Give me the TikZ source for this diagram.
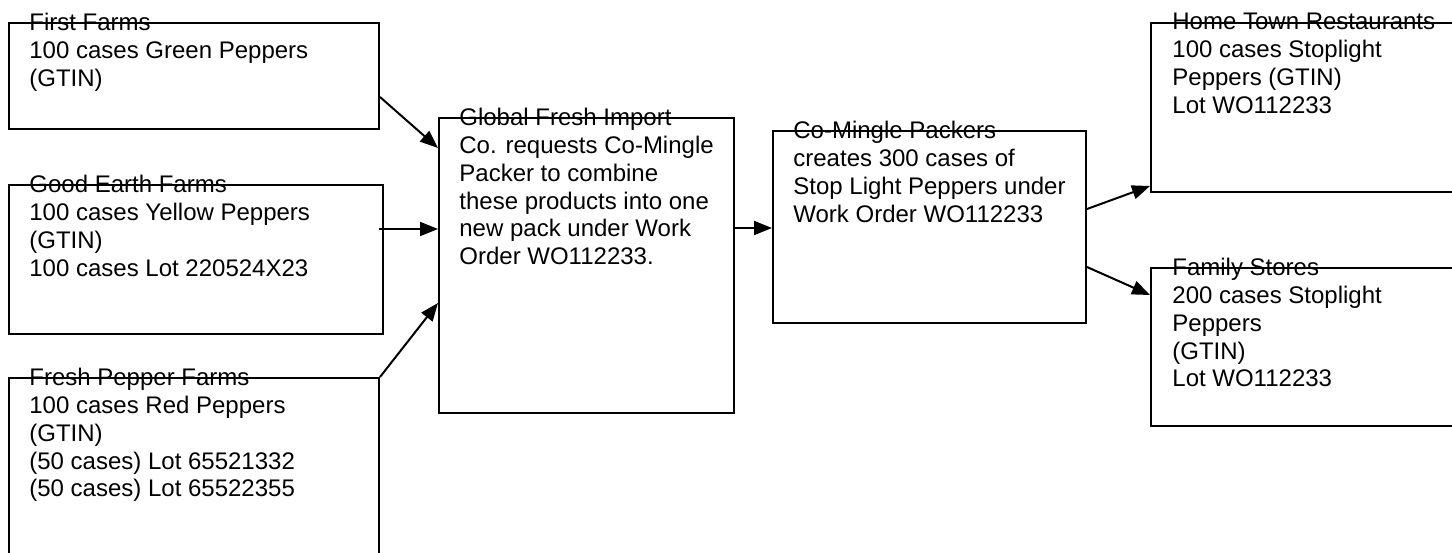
\documentclass[tikz,border=0pt]{standalone}
\usepackage{fontspec}
\setmainfont{Liberation Sans}
\usepackage{tikz}
\usetikzlibrary{arrows.meta,positioning,calc}

\begin{document}
\begin{tikzpicture}[x=0.5pt,y=-0.5pt,
  box/.style={draw,line width=1pt,rectangle,inner sep=0pt,anchor=north west},
  txt/.style={anchor=north west,inner sep=0pt,align=left,font=\fontsize{12pt}{13.9pt}\selectfont},
  arr/.style={line width=1pt,-{Triangle[length=9pt,width=7pt]}}]
  \useasboundingbox (0,0) rectangle (1452,552);
  % growers
  \node[box,minimum width=185pt,minimum height=53pt] (first) at (8,22) {};
  \node[txt] (firsttxt) at ([xshift=10.5pt,yshift=4.5pt]first.north west)
  {First Farms\\100 cases Green Peppers\\(GTIN)};
  \node[box,minimum width=187pt,minimum height=74.5pt] (goodearth) at (8,184) {};
  \node[txt] (goodearthtxt) at ([xshift=10.5pt,yshift=4.5pt]goodearth.north west)
  {Good Earth Farms\\100 cases Yellow Peppers\\(GTIN)\\100 cases Lot 220524X23};
  \node[box,minimum width=185pt,minimum height=95pt] (fresh) at (8,377) {};
  \node[txt] (freshtxt) at ([xshift=10.5pt,yshift=4.5pt]fresh.north west)
  {Fresh Pepper Farms\\100 cases Red Peppers\\(GTIN)\\(50 cases) Lot 65521332\\(50 cases) Lot 65522355};
  % importer and packer
  \node[box,minimum width=147.5pt,minimum height=147.5pt] (global) at (438,117) {};
  \node[txt] (globaltxt) at ([xshift=10.5pt,yshift=4.5pt]global.north west)
  {Global Fresh Import\\Co. requests Co-Mingle\\Packer to combine\\these products into one\\new pack under Work\\Order WO112233.};
  \node[box,minimum width=156.5pt,minimum height=96pt] (comingle) at (772,130) {};
  \node[txt] (comingletxt) at ([xshift=10.5pt,yshift=4.5pt]comingle.north west)
  {Co-Mingle Packers\\creates 300 cases of\\Stop Light Peppers under\\Work Order WO112233};
  % buyers
  \node[box,minimum width=160pt,minimum height=84.5pt] (hometown) at (1150,22) {};
  \node[txt] (hometowntxt) at ([xshift=11pt,yshift=4.5pt]hometown.north west)
  {Home Town Restaurants\\100 cases Stoplight\\Peppers (GTIN)\\Lot WO112233};
  \node[box,minimum width=160pt,minimum height=79pt] (family) at (1150,267) {};
  \node[txt] (familytxt) at ([xshift=11pt,yshift=4.5pt]family.north west)
  {Family Stores\\200 cases Stoplight\\Peppers\\(GTIN)\\Lot WO112233};
  % flows
  \draw[arr] ([yshift=16.5pt]first.south east) -- ([yshift=-15.5pt]global.north west);
  \draw[arr] ([xshift=-2.5pt,yshift=15.25pt]goodearth.east) coordinate (ge) -- (ge -| global.west);
  \draw[arr] (fresh.north east) -- ([yshift=-93pt]global.north west);
  \draw[arr] ([yshift=-55.5pt]global.north east) coordinate (gc) -- (gc -| comingle.west);
  \draw[arr] ([yshift=-39.5pt]comingle.north east) -- ([yshift=3.5pt]hometown.south west);
  \draw[arr] ([yshift=-68.5pt]comingle.north east) -- ([yshift=-14pt]family.north west);
\end{tikzpicture}
\end{document}
